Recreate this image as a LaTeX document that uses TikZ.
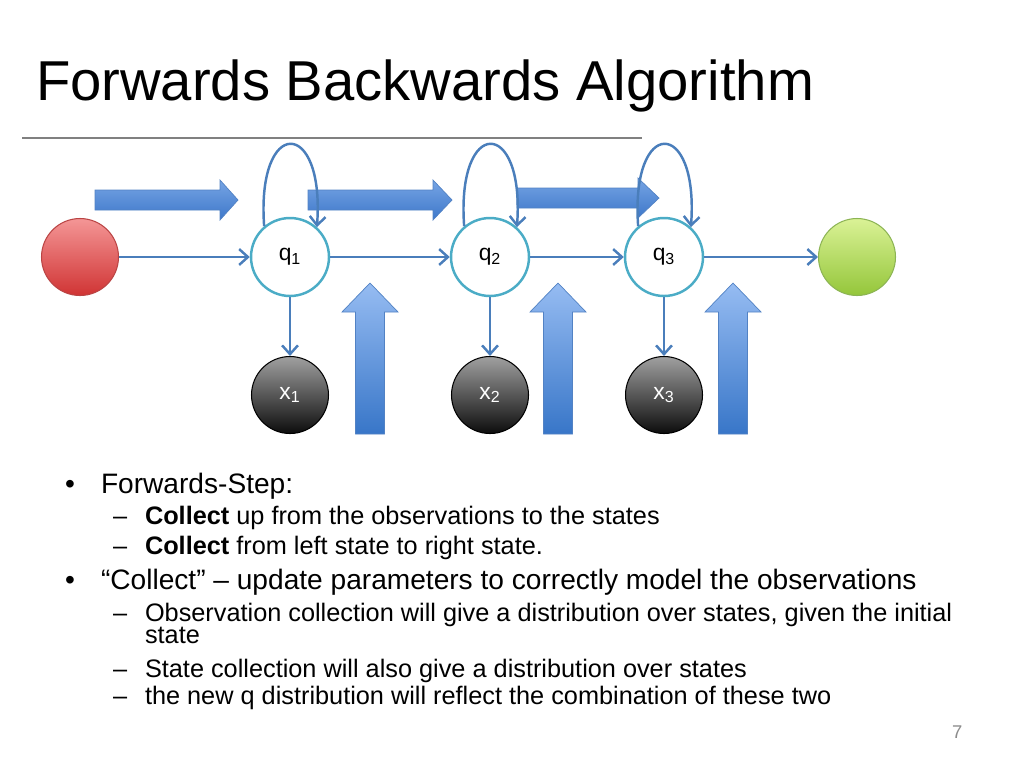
\documentclass[tikz,border=0pt]{standalone}
\usepackage{fontspec}
\setmainfont{Liberation Sans}
\usetikzlibrary{arrows.meta}
\definecolor{linkblue}{RGB}{74,126,187}
\definecolor{statecyan}{RGB}{75,172,198}
\definecolor{starttop}{RGB}{244,150,150}
\definecolor{startbot}{RGB}{208,52,52}
\definecolor{startedge}{RGB}{186,68,68}
\definecolor{endtop}{RGB}{218,242,150}
\definecolor{endbot}{RGB}{148,198,58}
\definecolor{endedge}{RGB}{140,180,84}
\definecolor{obstop}{RGB}{160,160,160}
\definecolor{htop}{RGB}{118,164,228}
\definecolor{hbot}{RGB}{62,120,202}
\definecolor{vtop}{RGB}{150,188,242}
\definecolor{vbot}{RGB}{56,118,200}
\definecolor{blockedge}{RGB}{82,130,196}
\definecolor{rulegray}{RGB}{128,128,128}
\definecolor{pagegray}{RGB}{140,140,140}
\tikzset{
  conn/.style={draw=linkblue,line width=1.4pt,-{Straight Barb[length=5pt,width=9pt]}},
  state/.style={circle,draw=statecyan,line width=1.4pt,fill=white,minimum size=1.56cm,inner sep=0pt,font=\fontsize{13}{15}\selectfont},
  obs/.style={circle,draw=black,line width=0.6pt,top color=obstop,bottom color=black!95,minimum size=1.54cm,inner sep=0pt,text=white,font=\fontsize{13}{15}\selectfont},
  startnode/.style={circle,draw=startedge,line width=0.6pt,top color=starttop,bottom color=startbot,minimum size=1.54cm},
  endnode/.style={circle,draw=endedge,line width=0.6pt,top color=endtop,bottom color=endbot,minimum size=1.54cm},
  harrow/.style={draw=blockedge,line width=0.4pt,top color=htop,bottom color=hbot},
  varrow/.style={draw=blockedge,line width=0.4pt,top color=vtop,bottom color=vbot},
  txt/.style={anchor=base west,inner sep=0pt,outer sep=0pt},
  lvlone/.style={txt,font=\fontsize{16}{19}\selectfont},
  lvltwo/.style={txt,font=\fontsize{14.4}{12.8}\selectfont}
}
\begin{document}
\begin{tikzpicture}[x=0.02cm,y=-0.02cm]
\useasboundingbox (0,0) rectangle (1024,768);
% title and rule
\node[txt,font=\fontsize{32}{38}\selectfont] (title) at (36,100) {Forwards Backwards Algorithm};
\draw[rulegray,line width=1.3pt] (22,138) -- (642,138);
% big collect arrows
\foreach \xs/\xb/\xt/\yc in {95/220/238/200,308/433/452/200,517/638/659/198}
  \shade[harrow] (\xs,\yc-10) -- (\xb,\yc-10) -- (\xb,\yc-20) -- (\xt,\yc) -- (\xb,\yc+20) -- (\xb,\yc+10) -- (\xs,\yc+10) -- cycle;
\foreach \cx in {370,558,733}
  \shade[varrow] (\cx,283) -- (\cx+28,312) -- (\cx+14.5,312) -- (\cx+14.5,434) -- (\cx-14.5,434) -- (\cx-14.5,312) -- (\cx-28,312) -- cycle;
% chain
\node[startnode] (s0) at (80,257) {};
\node[state] (q1) at (290,257) {q\textsubscript{1}};
\node[state] (q2) at (490,257) {q\textsubscript{2}};
\node[state] (q3) at (664,257) {q\textsubscript{3}};
\node[endnode] (sN) at (857,257) {};
\node[obs] (x1) at (290,395) {x\textsubscript{1}};
\node[obs] (x2) at (490,395) {x\textsubscript{2}};
\node[obs] (x3) at (664,395) {x\textsubscript{3}};
\foreach \a/\b in {s0/q1,q1/q2,q2/q3,q3/sN}
  \draw[conn] (\a) -- (\b);
\foreach \i in {1,2,3} {
  \draw[conn] (q\i) -- (x\i);
  \draw[conn] (q\i.130) .. controls +(-8,-110) and +(8,-110) .. (q\i.48);
}
% bullets
\node[lvlone] (b1) at (65,493) {•};
\node[lvlone] (t1) at (101,493) {Forwards-Step:};
\node[lvltwo] (d1) at (113,524) {–};
\node[lvltwo] (t11) at (145,524) {\textbf{Collect} up from the observations to the states};
\node[lvltwo] (d2) at (113,554) {–};
\node[lvltwo] (t12) at (145,554) {\textbf{Collect} from left state to right state.};
\node[lvlone] (b2) at (65,589) {•};
\node[lvlone] (t2) at (101,589) {“Collect” – update parameters to correctly model the observations};
\node[lvltwo] (d3) at (113,621) {–};
\node[lvltwo] (t21) at (145,621) {Observation collection will give a distribution over states, given the initial};
\node[lvltwo] (t21b) at (145,643) {state};
\node[lvltwo] (d4) at (113,677) {–};
\node[lvltwo] (t22) at (145,677) {State collection will also give a distribution over states};
\node[lvltwo] (d5) at (113,704) {–};
\node[lvltwo] (t23) at (145,704) {the new q distribution will reflect the combination of these two};
\node[txt,text=pagegray,font=\fontsize{10.5}{12}\selectfont] (page) at (952,738) {7};
\end{tikzpicture}
\end{document}
